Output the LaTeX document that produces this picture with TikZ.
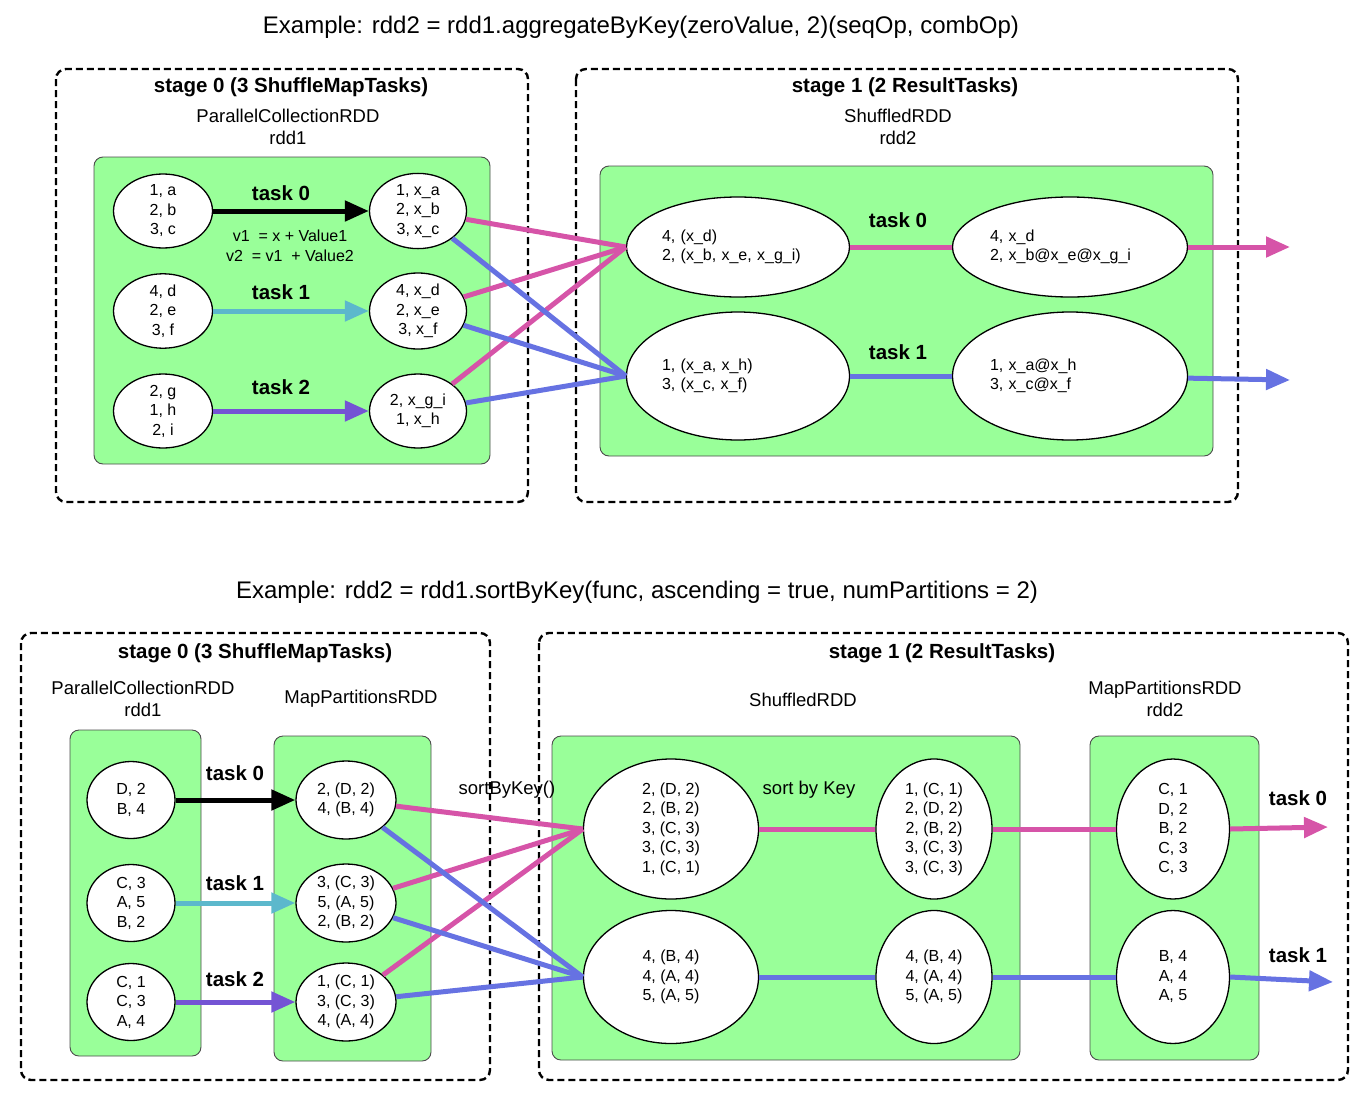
\documentclass[tikz,border=0pt]{standalone}
\usepackage{fontspec}
\setmainfont{Liberation Sans}
\usetikzlibrary{shapes.geometric,arrows.meta}

\definecolor{partgreen}{RGB}{153,255,153}
\definecolor{shufpink}{RGB}{214,84,168}
\definecolor{shufblue}{RGB}{102,114,226}
\definecolor{taskcyan}{RGB}{92,184,204}
\definecolor{taskpurple}{RGB}{116,84,212}

\newcommand{\parttext}{\fontsize{16}{19.5}\selectfont}
\newcommand{\rddtext}{\fontsize{18.5}{22}\selectfont}
\newcommand{\tasktext}{\fontsize{20.5}{24}\selectfont\bfseries}
\newcommand{\titletext}{\fontsize{24}{28}\selectfont}

\begin{document}
\begin{tikzpicture}[x=1pt,y=-1pt,
    stagebox/.style={draw, line width=2.4pt, dash pattern=on 7pt off 4pt, rounded corners=10pt},
    rddbox/.style={draw=black!70, fill=partgreen, line width=0.9pt, rounded corners=9pt},
    part/.style={ellipse, draw, fill=white, line width=1.3pt, inner sep=0pt, align=center, font=\parttext},
    partleft/.style={part, align=left},
    lbl/.style={align=center, font=\rddtext},
    tasklbl/.style={font=\tasktext},
    flow/.style={line width=5pt, -{Triangle[length=24pt,width=20pt]}},
    shuf/.style={line width=5pt}]
    \useasboundingbox (0,0) rectangle (1364,1092);

    % aggregateByKey (upper half)
    \node[font=\titletext] (title0) at (641,27) {Example: rdd2 = rdd1.aggregateByKey(zeroValue, 2)(seqOp, combOp)};

    % stage 0 of aggregateByKey
    \begin{scope}
    \draw[stagebox] (56,69) rectangle (528,502);
    \node[tasklbl] (st0) at (291,87) {stage 0 (3 ShuffleMapTasks)};
    \node[lbl] (rdd1) at (288,127) {ParallelCollectionRDD\\rdd1};
    \draw[rddbox] (94,157) rectangle (490,464);
    \node[part, minimum width=99pt, minimum height=74pt] (a0) at (163,211) {1, a\\2, b\\3, c};
    \node[part, minimum width=99pt, minimum height=74pt] (a1) at (163,311) {4, d\\2, e\\3, f};
    \node[part, minimum width=99pt, minimum height=74pt] (a2) at (163,411) {2, g\\1, h\\2, i};
    \node[part, minimum width=97pt, minimum height=74pt] (b0) at (418,211) {1, x\_a\\2, x\_b\\3, x\_c};
    \node[part, minimum width=97pt, minimum height=74pt] (b1) at (418,311) {4, x\_d\\2, x\_e\\3, x\_f};
    \node[part, minimum width=97pt, minimum height=74pt] (b2) at (418,411) {2, x\_g\_i\\1, x\_h};
    \node[tasklbl] (t0) at (281,193) {task 0};
    \node[tasklbl] (t1) at (281,292) {task 1};
    \node[tasklbl] (t2) at (281,387) {task 2};
    \node[align=center, font=\parttext] (seq) at (290,246) {v1~ = x + Value1\\v2~ = v1~ + Value2};
    \draw[flow] (a0) -- (b0);
    \draw[flow, taskcyan] (a1) -- (b1);
    \draw[flow, taskpurple] (a2) -- (b2);
    \end{scope}

    % stage 1 of aggregateByKey
    \begin{scope}
    \draw[stagebox] (576,69) rectangle (1238,502);
    \node[tasklbl] (st1) at (905,87) {stage 1 (2 ResultTasks)};
    \node[lbl] (rdd2) at (898,127) {ShuffledRDD\\rdd2};
    \draw[rddbox] (600,166) rectangle (1213,456);
    \node[partleft, text width=152pt, minimum width=223pt, minimum height=100pt] (c0) at (738,247) {4, (x\_d)\\2, (x\_b, x\_e, x\_g\_i)};
    \node[partleft, text width=152pt, minimum width=223pt, minimum height=128pt] (c1) at (738,376) {1, (x\_a, x\_h)\\3, (x\_c, x\_f)};
    \node[partleft, text width=160pt, minimum width=235pt, minimum height=100pt] (d0) at (1070,247) {4, x\_d\\2, x\_b@x\_e@x\_g\_i};
    \node[partleft, text width=160pt, minimum width=235pt, minimum height=128pt] (d1) at (1070,376) {1, x\_a@x\_h\\3, x\_c@x\_f};
    \node[tasklbl] (u0) at (898,220) {task 0};
    \node[tasklbl] (u1) at (898,352) {task 1};
    \coordinate (out0) at (1290,247);
    \coordinate (out1) at (1290,380);
    \draw[shuf, shufpink] (c0) -- (d0);
    \draw[shuf, shufblue] (c1) -- (d1);
    \draw[flow, shufpink] (d0) -- (out0);
    \draw[flow, shufblue] (d1) -- (out1);
    \end{scope}

    % shuffle dependency
    \draw[shuf, shufpink] (b0) -- (c0.west);
    \draw[shuf, shufpink] (b1) -- (c0.west);
    \draw[shuf, shufpink] (b2) -- (c0.west);
    \draw[shuf, shufblue] (b0) -- (c1.west);
    \draw[shuf, shufblue] (b1) -- (c1.west);
    \draw[shuf, shufblue] (b2) -- (c1.west);

    % sortByKey (lower half)
    \node[font=\titletext] (title1) at (637,592) {Example: rdd2 = rdd1.sortByKey(func, ascending = true, numPartitions = 2)};

    % stage 0 of sortByKey
    \begin{scope}
    \draw[stagebox] (21,633) rectangle (490,1080);
    \node[tasklbl] (st2) at (255,653) {stage 0 (3 ShuffleMapTasks)};
    \node[lbl] (rdd3) at (143,699) {ParallelCollectionRDD\\rdd1};
    \node[lbl] (rdd4) at (361,699) {MapPartitionsRDD};
    \draw[rddbox] (70,730) rectangle (201,1056);
    \draw[rddbox] (274,736) rectangle (431,1061);
    \node[part, minimum width=88pt, minimum height=77pt] (e0) at (131,800) {D, 2\\B, 4};
    \node[part, minimum width=88pt, minimum height=77pt] (e1) at (131,903) {C, 3\\A, 5\\B, 2};
    \node[part, minimum width=88pt, minimum height=77pt] (e2) at (131,1002) {C, 1\\C, 3\\A, 4};
    \node[part, minimum width=100pt, minimum height=78pt] (f0) at (346,800) {2, (D, 2)\\4, (B, 4)};
    \node[part, minimum width=100pt, minimum height=78pt] (f1) at (346,903) {3, (C, 3)\\5, (A, 5)\\2, (B, 2)};
    \node[part, minimum width=100pt, minimum height=78pt] (f2) at (346,1002) {1, (C, 1)\\3, (C, 3)\\4, (A, 4)};
    \node[tasklbl] (v0) at (235,773) {task 0};
    \node[tasklbl] (v1) at (235,883) {task 1};
    \node[tasklbl] (v2) at (235,979) {task 2};
    \draw[flow] (e0) -- (f0);
    \draw[flow, taskcyan] (e1) -- (f1);
    \draw[flow, taskpurple] (e2) -- (f2);
    \end{scope}

    % stage 1 of sortByKey
    \begin{scope}
    \draw[stagebox] (539,633) rectangle (1348,1080);
    \node[tasklbl] (st3) at (942,653) {stage 1 (2 ResultTasks)};
    \node[lbl] (rdd5) at (803,700) {ShuffledRDD};
    \node[lbl] (rdd6) at (1165,699) {MapPartitionsRDD\\rdd2};
    \draw[rddbox] (552,736) rectangle (1020,1060);
    \draw[rddbox] (1090,736) rectangle (1259,1060);
    \node[part, minimum width=175pt, minimum height=140pt] (g0) at (671,829) {2, (D, 2)\\2, (B, 2)\\3, (C, 3)\\3, (C, 3)\\1, (C, 1)};
    \node[part, minimum width=175pt, minimum height=133pt] (g1) at (671,977) {4, (B, 4)\\4, (A, 4)\\5, (A, 5)};
    \node[part, minimum width=116pt, minimum height=140pt] (h0) at (934,829) {1, (C, 1)\\2, (D, 2)\\2, (B, 2)\\3, (C, 3)\\3, (C, 3)};
    \node[part, minimum width=116pt, minimum height=133pt] (h1) at (934,977) {4, (B, 4)\\4, (A, 4)\\5, (A, 5)};
    \node[part, minimum width=113pt, minimum height=140pt] (k0) at (1173,829) {C, 1\\D, 2\\B, 2\\C, 3\\C, 3};
    \node[part, minimum width=113pt, minimum height=133pt] (k1) at (1173,977) {B, 4\\A, 4\\A, 5};
    \node[lbl] (sortlbl) at (809,790) {sort by Key};
    \node[tasklbl] (w0) at (1298,798) {task 0};
    \node[tasklbl] (w1) at (1298,955) {task 1};
    \coordinate (out2) at (1328,827);
    \coordinate (out3) at (1333,982);
    \draw[shuf, shufpink] (g0) -- (h0);
    \draw[shuf, shufpink] (h0) -- (k0);
    \draw[shuf, shufblue] (g1) -- (h1);
    \draw[shuf, shufblue] (h1) -- (k1);
    \draw[flow, shufpink] (k0.east) -- (out2);
    \draw[flow, shufblue] (k1.east) -- (out3);
    \end{scope}

    % shuffle dependency
    \node[lbl] (sortop) at (507,790) {sortByKey()};
    \draw[shuf, shufpink] (f0) -- (g0.west);
    \draw[shuf, shufpink] (f1) -- (g0.west);
    \draw[shuf, shufpink] (f2) -- (g0.west);
    \draw[shuf, shufblue] (f0) -- (g1.west);
    \draw[shuf, shufblue] (f1) -- (g1.west);
    \draw[shuf, shufblue] (f2) -- (g1.west);
\end{tikzpicture}
\end{document}
